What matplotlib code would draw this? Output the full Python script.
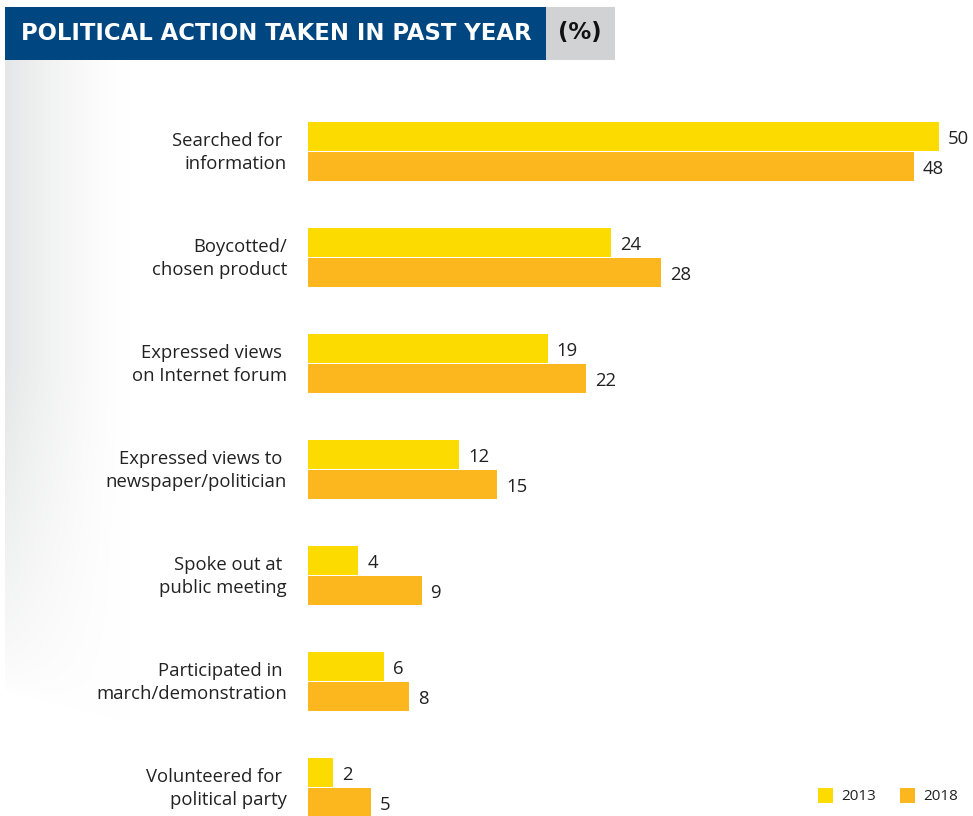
import numpy as np
import matplotlib
matplotlib.use("Agg")
import matplotlib.pyplot as plt
from matplotlib.patches import Rectangle

categories = ["Searched for \ninformation", "Boycotted/\nchosen product", "Expressed views \non Internet forum",
              "Expressed views to \nnewspaper/politician", "Spoke out at \npublic meeting",
              "Participated in \nmarch/demonstration", "Volunteered for \npolitical party"]
values_2013 = [50, 24, 19, 12, 4, 6, 2]
values_2018 = [48, 28, 22, 15, 9, 8, 5]
series_names = ["2013", "2018"]
title = "POLITICAL ACTION TAKEN IN PAST YEAR"
unit = "(%)"

C13 = "#FCDC00"
C18 = "#FDB71E"
FONT = ["Open Sans", "DejaVu Sans"]
TFONT = ["DejaVu Sans"]

W, H = 973, 816
fig = plt.figure(figsize=(W / 100, H / 100), dpi=100)

# background gradient
bg = fig.add_axes([0, 0, 1, 1], zorder=0)
bg.set_xlim(0, W); bg.set_ylim(H, 0); bg.axis("off")
xs = np.arange(W); ys = np.arange(H)
X, Y = np.meshgrid(xs, ys)
fx = np.clip(1 - (X - 5) / 125.0, 0, 1) ** 1.5
fx[X < 5] = 0
fy = np.clip((690 + 0.25 * X - Y) / 330.0, 0, 1) ** 0.7
fy[Y < 60] = 0
a = fx * fy * 0.1
img = np.ones((H, W, 3)) - a[..., None] * np.array([1.0, 0.97, 0.94])
bg.imshow(img, extent=(0, W, H, 0), aspect="auto", interpolation="bilinear")

# header
bg.add_patch(Rectangle((5, 7), 541, 53, facecolor="#004680", edgecolor="none"))
bg.add_patch(Rectangle((546, 7), 69, 53, facecolor="#D1D2D4", edgecolor="none"))
bg.text(21, 33, title, color="white", fontsize=16.4, fontweight="bold", family=TFONT,
        ha="left", va="center")
bg.text(580, 33, unit, color="#111111", fontsize=16.4, fontweight="bold", family=TFONT,
        ha="center", va="center")

# main axes
px = 12.62
ax = fig.add_axes([308 / W, 0, 1 - 308 / W, (816 - 60) / H], zorder=2)
ax.patch.set_alpha(0)
ax.set_xlim(0, (W - 308) / px)
ax.set_ylim((816 - 151) / 106, (60 - 151) / 106)
ax.axis("off")

h = 29 / 106
n = len(categories)
y = np.arange(n)
ax.barh(y - h / 2, values_2013, height=h, color=C13, label=series_names[0])
ax.barh(y + h / 2 + 0.005, values_2018, height=h, color=C18, label=series_names[1])

for i in range(n):
    ax.text(-21 / px, y[i] + 0.015, categories[i], ha="right", va="center", fontsize=13.3,
            family=FONT, color="#222222", linespacing=1.35, clip_on=False)
    ax.text(values_2013[i] + 9 / px, y[i] - h / 2 + 0.02, str(values_2013[i]), ha="left",
            va="center", fontsize=13.3, family=FONT, color="#222222", clip_on=False)
    ax.text(values_2018[i] + 9 / px, y[i] + h / 2 + 0.03, str(values_2018[i]), ha="left",
            va="center", fontsize=13.3, family=FONT, color="#222222", clip_on=False)

# legend
for j, (nm, c) in enumerate(zip(series_names, [C13, C18])):
    x0 = 818 + j * 82
    bg.add_patch(Rectangle((x0, 788), 15, 15, facecolor=c, edgecolor="none", zorder=3))
    bg.text(x0 + 23, 796, nm, ha="left", va="center", fontsize=11, family=FONT,
            color="#222222", zorder=3)

fig.savefig("out.png", dpi=100)
